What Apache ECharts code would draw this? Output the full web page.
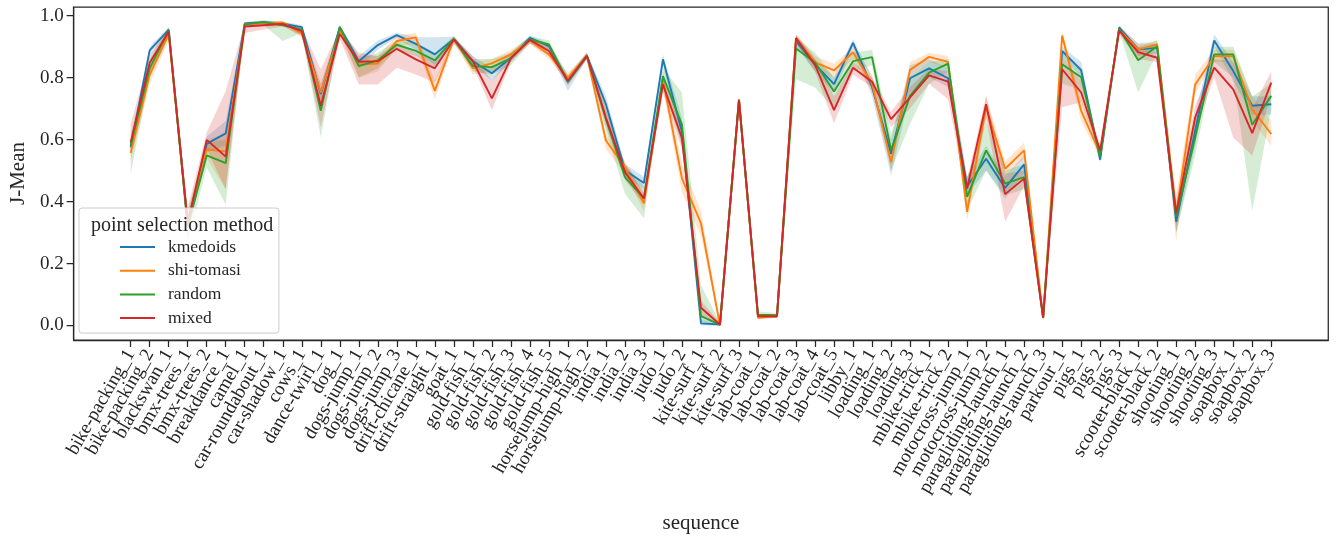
<!DOCTYPE html>
<html><head><meta charset="utf-8">
<script src="https://cdn.jsdelivr.net/npm/echarts@6/dist/echarts.min.js"></script>
<style>html,body{margin:0;padding:0;background:#fff}#c{width:1338px;height:539px}</style>
</head><body><div id="c"></div>
<script>
const categories = ["bike-packing_1","bike-packing_2","blackswan_1","bmx-trees_1","bmx-trees_2","breakdance_1","camel_1","car-roundabout_1","car-shadow_1","cows_1","dance-twirl_1","dog_1","dogs-jump_1","dogs-jump_2","dogs-jump_3","drift-chicane_1","drift-straight_1","goat_1","gold-fish_1","gold-fish_2","gold-fish_3","gold-fish_4","gold-fish_5","horsejump-high_1","horsejump-high_2","india_1","india_2","india_3","judo_1","judo_2","kite-surf_1","kite-surf_2","kite-surf_3","lab-coat_1","lab-coat_2","lab-coat_3","lab-coat_4","lab-coat_5","libby_1","loading_1","loading_2","loading_3","mbike-trick_1","mbike-trick_2","motocross-jump_1","motocross-jump_2","paragliding-launch_1","paragliding-launch_2","paragliding-launch_3","parkour_1","pigs_1","pigs_2","pigs_3","scooter-black_1","scooter-black_2","shooting_1","shooting_2","shooting_3","soapbox_1","soapbox_2","soapbox_3"];

const yTicks = [0.0, 0.2, 0.4, 0.6, 0.8, 1.0];

const kmedoids = [0.575,0.888,0.955,0.33,0.586,0.620,0.975,0.979,0.974,0.963,
 0.747,0.963,0.853,0.905,0.937,0.909,0.875,0.925,0.853,0.814,
 0.864,0.928,0.902,0.786,0.870,0.714,0.501,0.460,0.859,0.625,
 0.007,0.003,0.728,0.030,0.030,0.918,0.843,0.779,0.912,0.77,
 0.554,0.798,0.830,0.798,0.449,0.538,0.444,0.520,0.025,0.886,
 0.824,0.535,0.962,0.891,0.896,0.335,0.629,0.920,0.821,0.709,
 0.714];
const kmedoidsLo = [0.55,0.87,0.945,0.31,0.56,0.58,0.968,0.974,0.968,0.955,
 0.72,0.955,0.83,0.89,0.928,0.89,0.84,0.915,0.84,0.79,
 0.85,0.92,0.89,0.757,0.86,0.69,0.48,0.44,0.84,0.58,
 0.0,0.0,0.72,0.025,0.025,0.9,0.82,0.75,0.895,0.74,
 0.484,0.75,0.8,0.77,0.42,0.5,0.41,0.49,0.015,0.87,
 0.8,0.525,0.955,0.87,0.88,0.3,0.58,0.9,0.79,0.68,
 0.68];
const kmedoidsHi = [0.6,0.9,0.962,0.35,0.61,0.66,0.98,0.984,0.98,0.97,
 0.78,0.97,0.87,0.92,0.945,0.93,0.93,0.932,0.87,0.83,
 0.88,0.935,0.912,0.81,0.88,0.74,0.52,0.48,0.875,0.67,
 0.02,0.01,0.735,0.035,0.035,0.935,0.86,0.8,0.925,0.8,
 0.6,0.84,0.86,0.83,0.48,0.58,0.48,0.55,0.03,0.9,
 0.85,0.545,0.968,0.91,0.91,0.37,0.68,0.94,0.85,0.74,
 0.74];

const shiTomasi = [0.557,0.810,0.940,0.33,0.568,0.562,0.972,0.975,0.978,0.942,
 0.752,0.952,0.842,0.845,0.918,0.930,0.757,0.925,0.830,0.846,
 0.875,0.920,0.875,0.800,0.870,0.597,0.511,0.394,0.794,0.475,
 0.33,0.000,0.728,0.025,0.030,0.928,0.849,0.823,0.882,0.78,
 0.527,0.825,0.867,0.851,0.367,0.704,0.506,0.565,0.025,0.936,
 0.693,0.555,0.955,0.891,0.907,0.36,0.778,0.869,0.869,0.698,
 0.618];
const shiTomasiLo = [0.53,0.78,0.92,0.31,0.54,0.44,0.965,0.97,0.97,0.93,
 0.72,0.94,0.8,0.82,0.9,0.91,0.73,0.91,0.81,0.82,
 0.86,0.91,0.86,0.785,0.86,0.57,0.49,0.37,0.77,0.43,
 0.29,0.0,0.72,0.02,0.025,0.91,0.83,0.8,0.86,0.75,
 0.5,0.8,0.85,0.83,0.34,0.67,0.48,0.54,0.015,0.92,
 0.66,0.54,0.945,0.87,0.89,0.27,0.75,0.85,0.85,0.66,
 0.58];
const shiTomasiHi = [0.58,0.84,0.955,0.35,0.6,0.62,0.978,0.98,0.982,0.955,
 0.78,0.96,0.87,0.87,0.935,0.945,0.79,0.935,0.85,0.86,
 0.89,0.93,0.89,0.815,0.88,0.62,0.53,0.42,0.82,0.52,
 0.37,0.01,0.735,0.03,0.035,0.94,0.87,0.845,0.9,0.81,
 0.56,0.85,0.88,0.87,0.4,0.74,0.53,0.59,0.03,0.95,
 0.73,0.57,0.965,0.91,0.92,0.42,0.81,0.89,0.89,0.74,
 0.66];

const random = [0.581,0.830,0.953,0.32,0.549,0.524,0.972,0.979,0.969,0.955,
 0.693,0.963,0.837,0.856,0.906,0.886,0.856,0.925,0.837,0.834,
 0.862,0.923,0.907,0.788,0.870,0.666,0.479,0.410,0.805,0.648,
 0.030,0.003,0.728,0.035,0.033,0.894,0.849,0.755,0.853,0.866,
 0.565,0.741,0.816,0.845,0.415,0.565,0.458,0.479,0.025,0.843,
 0.801,0.545,0.958,0.856,0.901,0.351,0.607,0.875,0.875,0.648,
 0.741];
const randomLo = [0.49,0.8,0.935,0.27,0.51,0.39,0.965,0.97,0.918,0.945,
 0.607,0.95,0.8,0.83,0.89,0.87,0.83,0.915,0.82,0.81,
 0.84,0.91,0.89,0.775,0.86,0.63,0.425,0.346,0.78,0.58,
 0.01,0.0,0.72,0.03,0.028,0.795,0.768,0.7,0.82,0.84,
 0.5,0.65,0.78,0.82,0.37,0.5,0.42,0.44,0.015,0.78,
 0.76,0.53,0.95,0.752,0.88,0.3,0.55,0.85,0.8,0.37,
 0.7];
const randomHi = [0.62,0.86,0.965,0.37,0.59,0.6,0.978,0.985,0.98,0.965,
 0.76,0.972,0.86,0.88,0.92,0.91,0.88,0.935,0.86,0.86,
 0.88,0.935,0.92,0.8,0.88,0.7,0.52,0.45,0.83,0.752,
 0.13,0.01,0.735,0.045,0.04,0.93,0.88,0.8,0.88,0.89,
 0.62,0.8,0.85,0.86,0.48,0.66,0.5,0.52,0.03,0.88,
 0.83,0.56,0.965,0.9,0.92,0.39,0.66,0.9,0.9,0.74,
 0.78];

const mixed = [0.591,0.848,0.948,0.33,0.599,0.545,0.965,0.969,0.973,0.950,
 0.709,0.941,0.851,0.853,0.893,0.859,0.830,0.923,0.853,0.733,
 0.862,0.922,0.886,0.790,0.870,0.671,0.495,0.410,0.778,0.605,
 0.057,0.003,0.728,0.030,0.030,0.928,0.841,0.695,0.832,0.787,
 0.666,0.736,0.807,0.787,0.442,0.714,0.424,0.474,0.025,0.827,
 0.752,0.565,0.952,0.882,0.864,0.362,0.672,0.832,0.762,0.621,
 0.784];
const mixedLo = [0.56,0.82,0.93,0.29,0.57,0.44,0.944,0.955,0.965,0.935,
 0.64,0.925,0.778,0.778,0.832,0.81,0.784,0.91,0.84,0.695,
 0.85,0.91,0.87,0.775,0.86,0.64,0.47,0.39,0.75,0.57,
 0.03,0.0,0.72,0.025,0.025,0.91,0.82,0.652,0.81,0.77,
 0.64,0.7,0.78,0.73,0.41,0.67,0.335,0.45,0.015,0.704,
 0.72,0.55,0.94,0.86,0.85,0.32,0.63,0.8,0.607,0.549,
 0.74];
const mixedHi = [0.65,0.87,0.96,0.38,0.623,0.757,0.975,0.975,0.978,0.96,
 0.827,0.955,0.88,0.87,0.91,0.88,0.86,0.93,0.87,0.79,
 0.875,0.93,0.9,0.8,0.88,0.7,0.52,0.43,0.8,0.64,
 0.08,0.01,0.735,0.035,0.035,0.94,0.86,0.74,0.85,0.8,
 0.69,0.77,0.83,0.82,0.47,0.741,0.49,0.5,0.03,0.87,
 0.79,0.58,0.96,0.9,0.88,0.4,0.71,0.86,0.85,0.7,
 0.82];

const methods = [
  {name: "kmedoids", color: "#1f77b4", mean: kmedoids, lo: kmedoidsLo, hi: kmedoidsHi},
  {name: "shi-tomasi", color: "#ff7f0e", mean: shiTomasi, lo: shiTomasiLo, hi: shiTomasiHi},
  {name: "random", color: "#2ca02c", mean: random, lo: randomLo, hi: randomHi},
  {name: "mixed", color: "#d62728", mean: mixed, lo: mixedLo, hi: mixedHi}
];

const FONT = "Liberation Serif";
const TXT = "#262626";
// matplotlib-style 5% margins: 3 empty slots each side of the 61 categories
const PAD = 3;
const padLeft = Array.from({length: PAD}, (_, k) => "\u200b".repeat(k + 1));
const padRight = Array.from({length: PAD}, (_, k) => "\u200b".repeat(PAD + k + 1));
const axisCats = padLeft.concat(categories, padRight);
const isReal = i => i >= PAD && i < PAD + categories.length;

const series = [];
methods.forEach(m => {
  series.push({
    name: m.name + " band", type: "custom", silent: true, z: 1,
    data: categories.map((c, i) => [c, m.lo[i], m.hi[i]]),
    encode: {x: 0, y: [1, 2]},
    renderItem: (params, api) => {
      if (params.dataIndex !== 0) return null;
      const upper = categories.map((c, i) => api.coord([c, m.hi[i]]));
      const lower = categories.map((c, i) => api.coord([c, m.lo[i]])).reverse();
      return {
        type: "polygon",
        shape: {points: upper.concat(lower)},
        style: {fill: m.color, opacity: 0.2}
      };
    }
  });
});
methods.forEach(m => {
  series.push({
    name: m.name, type: "line", data: categories.map((c, i) => [c, m.mean[i]]),
    showSymbol: false, symbol: "none", color: m.color,
    lineStyle: {color: m.color, width: 1.9}, z: 3
  });
});

const chart = echarts.init(document.getElementById("c"), null, {renderer: "canvas"});
chart.setOption({
  backgroundColor: "#fff",
  animation: false,
  textStyle: {fontFamily: FONT, color: TXT},
  grid: {left: 70, right: 9, top: 7, bottom: 197, show: true, borderColor: TXT, borderWidth: 1.25, backgroundColor: "transparent"},
  title: {
    text: "point selection method", left: 86, top: 211,
    textStyle: {fontFamily: FONT, fontSize: 20, fontWeight: "normal", color: TXT}
  },
  legend: {
    data: methods.map(m => m.name), orient: "vertical", left: 79, top: 208,
    padding: [29, 38, 5, 41], itemGap: 3.7, itemWidth: 35, itemHeight: 2, icon: "rect",
    backgroundColor: "rgba(255,255,255,0.8)", borderColor: "#cccccc", borderWidth: 1, borderRadius: 3,
    textStyle: {fontFamily: FONT, fontSize: 17.5, color: TXT, lineHeight: 20, padding: [0, 0, 0, 8]}
  },
  xAxis: {
    type: "category", data: axisCats, boundaryGap: false,
    name: "sequence", nameLocation: "middle", nameGap: 173,
    nameTextStyle: {fontFamily: FONT, fontSize: 21, color: TXT},
    axisLine: {show: true, onZero: false, lineStyle: {color: TXT, width: 1.25}},
    axisTick: {show: true, length: 7, lineStyle: {color: TXT, width: 1.25}, interval: (i) => isReal(i)},
    axisLabel: {
      interval: 0, rotate: 60, margin: 11, fontFamily: FONT, fontSize: 19, color: TXT
    },
    splitLine: {show: false}
  },
  yAxis: {
    type: "value", min: -0.0468, max: 1.0279,
    name: "J-Mean", nameLocation: "middle", nameGap: 44, nameRotate: 90,
    nameTextStyle: {fontFamily: FONT, fontSize: 21, color: TXT},
    axisLine: {show: true, onZero: false, lineStyle: {color: TXT, width: 1.25}},
    axisTick: {show: true, length: 7, lineStyle: {color: TXT, width: 1.25}, customValues: yTicks},
    axisLabel: {customValues: yTicks, margin: 10, fontFamily: FONT, fontSize: 19, color: TXT,
      showMinLabel: true, showMaxLabel: true, formatter: v => v.toFixed(1)},
    splitLine: {show: false}
  },
  series: series
});
</script></body></html>
